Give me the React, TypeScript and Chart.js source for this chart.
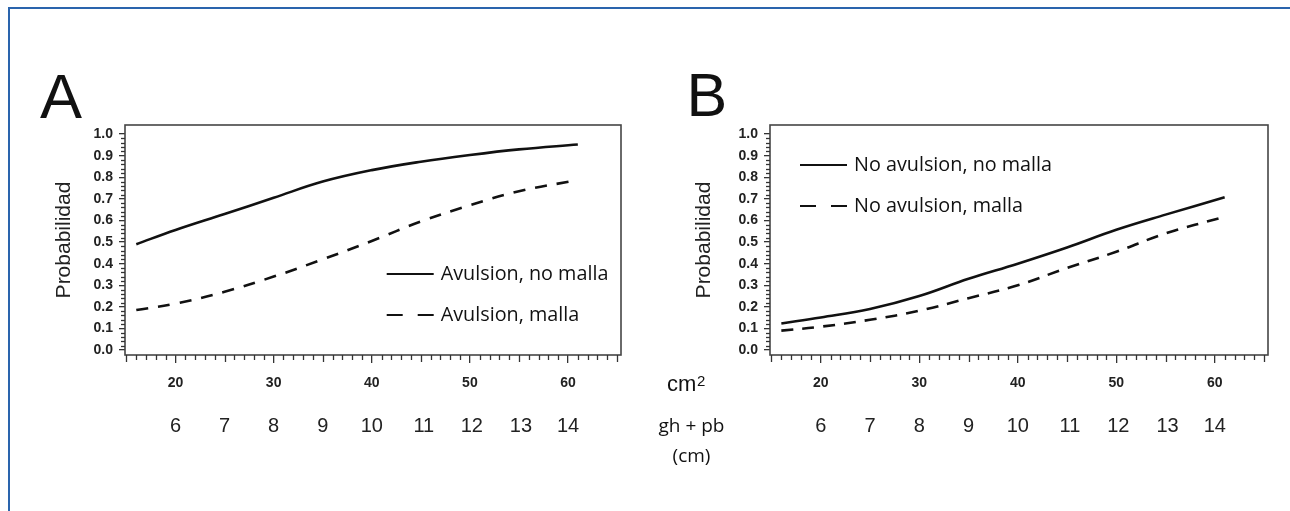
import React, { useEffect, useRef } from "react";
import { Chart, registerables } from "chart.js";

Chart.register(...registerables);

// ---- data ----
const X_CM2 = [16, 20, 25, 30, 35, 40, 45, 50, 55, 61];
const A_SOLID = [0.49, 0.556, 0.63, 0.705, 0.78, 0.833, 0.872, 0.903, 0.929, 0.952];
const A_DASHED = [0.185, 0.215, 0.27, 0.34, 0.42, 0.505, 0.595, 0.67, 0.735, 0.787];
const B_SOLID = [0.123, 0.151, 0.19, 0.25, 0.33, 0.40, 0.475, 0.557, 0.627, 0.707];
const B_DASHED = [0.09, 0.108, 0.14, 0.182, 0.24, 0.30, 0.38, 0.455, 0.54, 0.617];

const LABELS_A = ["Avulsion, no malla", "Avulsion, malla"];
const LABELS_B = ["No avulsion, no malla", "No avulsion, malla"];

const CM2_TICKS = [20, 30, 40, 50, 60];
const GH_LABELS = ["6", "7", "8", "9", "10", "11", "12", "13", "14"];
const GH_POS = [20, 25, 30, 35, 40, 45.3, 50.2, 55.2, 60];
const Y_TICKS = [0, 0.1, 0.2, 0.3, 0.4, 0.5, 0.6, 0.7, 0.8, 0.9, 1.0];

const X_MIN = 14.85;
const X_MAX = 65.4;
const Y_MIN = -0.023;
const Y_MAX = 1.042;

const INK = "#111";
const AXIS = "#333";

const decorPlugin = {
  id: "decor",
  afterDatasetsDraw(chart: any, _args: any, opts: any) {
    const { ctx, chartArea: a, scales } = chart;
    const xs = scales.x;
    const ys = scales.y;
    ctx.save();
    // frame
    ctx.strokeStyle = "#454545";
    ctx.lineWidth = 1.6;
    ctx.strokeRect(a.left, a.top, a.right - a.left, a.bottom - a.top);
    // minor ticks on x
    ctx.strokeStyle = AXIS;
    ctx.lineWidth = 1.3;
    for (let v = 15; v <= 65; v++) {
      if (v % 10 === 0) continue;
      const px = Math.round(xs.getPixelForValue(v)) + 0.5;
      const len = v % 5 === 0 ? 7 : 5;
      ctx.beginPath();
      ctx.moveTo(px, a.bottom);
      ctx.lineTo(px, a.bottom + len);
      ctx.stroke();
    }
    // minor ticks on y
    for (let i = 0; i <= 50; i++) {
      if (i % 5 === 0) continue;
      const py = Math.round(ys.getPixelForValue(i / 50)) + 0.5;
      ctx.beginPath();
      ctx.moveTo(a.left - 4, py);
      ctx.lineTo(a.left, py);
      ctx.stroke();
    }
    // legend
    const items = opts.items || [];
    chart.data.datasets.forEach((ds: any, i: number) => {
      const it = items[i];
      if (!it) return;
      const x0 = a.left + it.x;
      const y0 = a.top + it.y;
      ctx.setLineDash(it.dash);
      ctx.lineWidth = 2.2;
      ctx.strokeStyle = INK;
      ctx.beginPath();
      ctx.moveTo(x0, y0);
      ctx.lineTo(x0 + 47, y0);
      ctx.stroke();
      ctx.setLineDash([]);
      ctx.fillStyle = INK;
      ctx.font = '19.8px "Open Sans"';
      ctx.textBaseline = "middle";
      ctx.textAlign = "left";
      ctx.fillText(ds.label, x0 + 54, y0);
    });
    ctx.restore();
  },
};

type PanelProps = {
  left: number;
  solid: number[];
  dashed: number[];
  labels: string[];
  dash: number[];
  legend: { x: number; y: number; dash: number[] }[];
  padLeft: number;
  padRight: number;
  titlePad: number;
};

function Panel(p: PanelProps) {
  const ref = useRef<HTMLCanvasElement | null>(null);
  useEffect(() => {
    if (!ref.current) return;
    const yWidth = 125 - p.padLeft;
    const chart = new Chart(ref.current, {
      type: "line",
      data: {
        datasets: [
          {
            label: p.labels[0],
            data: X_CM2.map((x, i) => ({ x, y: p.solid[i] })),
            borderColor: INK,
            borderWidth: 2.6,
            pointRadius: 0,
            fill: false,
            tension: 0.4,
          },
          {
            label: p.labels[1],
            data: X_CM2.map((x, i) => ({ x, y: p.dashed[i] })),
            borderColor: INK,
            borderWidth: 2.6,
            borderDash: p.dash,
            pointRadius: 0,
            fill: false,
            tension: 0.4,
          },
        ],
      },
      options: {
        responsive: false,
        animation: false,
        devicePixelRatio: 1,
        layout: { padding: { left: p.padLeft, right: p.padRight, top: 125, bottom: 56 } },
        plugins: {
          legend: { display: false },
          title: { display: false },
          tooltip: { enabled: false },
          decor: { items: p.legend },
        } as any,
        scales: {
          x: {
            type: "linear",
            position: "bottom",
            weight: 0,
            min: X_MIN,
            max: X_MAX,
            afterBuildTicks: (s: any) => {
              s.ticks = CM2_TICKS.map((v) => ({ value: v }));
            },
            afterFit: (s: any) => {
              s.height = 40;
            },
            grid: {
              display: true,
              drawOnChartArea: false,
              drawTicks: true,
              tickLength: 8,
              color: AXIS,
              lineWidth: 1.3,
            },
            border: { display: false },
            ticks: {
              autoSkip: false,
              maxRotation: 0,
              minRotation: 0,
              padding: 11.6,
              color: "#222",
              font: { family: "Liberation Sans", size: 14, weight: "bold" },
              callback: (v: any) => String(v),
            },
          },
          x2: {
            type: "linear",
            position: "bottom",
            weight: 1,
            min: X_MIN,
            max: X_MAX,
            afterBuildTicks: (s: any) => {
              s.ticks = GH_POS.map((v) => ({ value: v }));
            },
            afterFit: (s: any) => {
              s.height = 60;
            },
            grid: { display: false, drawTicks: false, drawOnChartArea: false },
            border: { display: false },
            ticks: {
              autoSkip: false,
              maxRotation: 0,
              minRotation: 0,
              padding: 19,
              color: "#222",
              font: { family: "Liberation Sans", size: 20 },
              callback: (_v: any, i: number) => GH_LABELS[i],
            },
          },
          y: {
            type: "linear",
            position: "left",
            min: Y_MIN,
            max: Y_MAX,
            afterBuildTicks: (s: any) => {
              s.ticks = Y_TICKS.map((v) => ({ value: v }));
            },
            afterFit: (s: any) => {
              s.width = yWidth;
            },
            grid: {
              display: true,
              drawOnChartArea: false,
              drawTicks: true,
              tickLength: 6,
              color: AXIS,
              lineWidth: 1.3,
            },
            border: { display: false },
            title: {
              display: true,
              text: "Probabilidad",
              color: "#222",
              font: { family: "Liberation Sans", size: 21 },
              padding: { top: p.titlePad, bottom: 0 },
            },
            ticks: {
              padding: 6,
              color: "#222",
              font: { family: "Liberation Sans", size: 14, weight: "bold" },
              callback: (v: any) => Number(v).toFixed(1),
            },
          },
        },
      } as any,
      plugins: [decorPlugin as any],
    });
    return () => chart.destroy();
  }, []);
  return (
    <canvas
      ref={ref}
      width={645}
      height={511}
      style={{ position: "absolute", left: p.left, top: 0, width: 645, height: 511 }}
    />
  );
}

const txt: React.CSSProperties = { position: "absolute", margin: 0, whiteSpace: "nowrap", color: "#111" };

export default function App() {
  return (
    <div style={{ position: "absolute", left: 0, top: 0, width: 1290, height: 511, background: "#fff", overflow: "hidden" }}>
      <div
        style={{
          position: "absolute",
          left: 8,
          top: 7,
          width: 1290,
          height: 520,
          borderTop: "2px solid #2a64ad",
          borderLeft: "2px solid #2a64ad",
        }}
      />
      <Panel
        left={0}
        solid={A_SOLID}
        dashed={A_DASHED}
        labels={LABELS_A}
        dash={[12, 10]}
        legend={[
          { x: 261.7, y: 149, dash: [] },
          { x: 261.7, y: 190, dash: [16, 15] },
        ]}
        padLeft={50}
        padRight={24}
        titlePad={1.5}
      />
      <Panel
        left={645}
        solid={B_SOLID}
        dashed={B_DASHED}
        labels={LABELS_B}
        dash={[12, 9]}
        legend={[
          { x: 30, y: 40, dash: [] },
          { x: 30, y: 81, dash: [16, 15] },
        ]}
        padLeft={45}
        padRight={22}
        titlePad={2}
      />
      <div style={{ ...txt, left: 40, top: 64.7, fontFamily: "Liberation Sans", fontSize: 63, lineHeight: "63px" }}>A</div>
      <div style={{ ...txt, left: 686.5, top: 65.4, fontFamily: "Liberation Sans", fontSize: 61, lineHeight: "61px" }}>B</div>
      <div style={{ ...txt, left: 667, top: 373.4, fontFamily: "Liberation Sans", fontSize: 22, lineHeight: "22px" }}>cm</div>
      <div style={{ ...txt, left: 697, top: 373, fontFamily: "Liberation Sans", fontSize: 15, lineHeight: "15px" }}>2</div>
      <div style={{ ...txt, left: 641.5, width: 100, textAlign: "center", top: 416, fontFamily: "Open Sans", fontSize: 19, lineHeight: "19px" }}>
        gh + pb
      </div>
      <div style={{ ...txt, left: 641.5, width: 100, textAlign: "center", top: 446, fontFamily: "Open Sans", fontSize: 19, lineHeight: "19px" }}>
        (cm)
      </div>
    </div>
  );
}
